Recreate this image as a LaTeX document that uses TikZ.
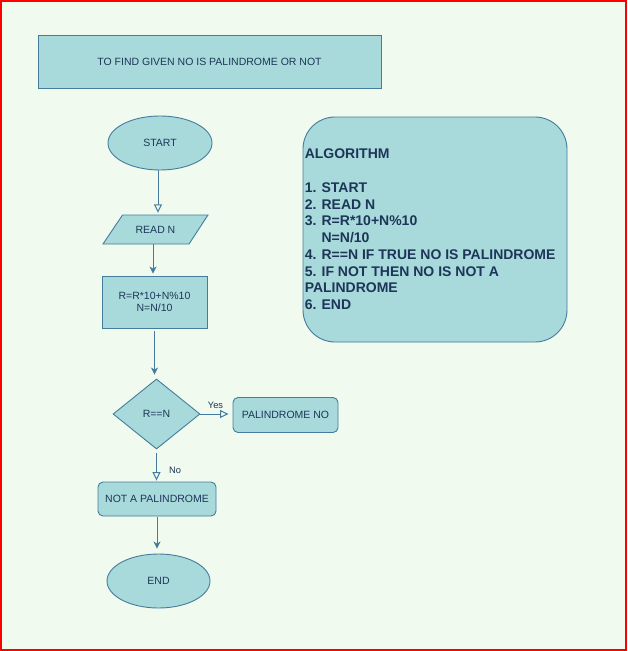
\documentclass[tikz,border=0pt]{standalone}
\usepackage{fontspec}
\setmainfont{Liberation Sans}
\usetikzlibrary{shapes.geometric,arrows.meta,calc}
\definecolor{bgc}{HTML}{F1FAEE}
\definecolor{fillc}{HTML}{A8DADC}
\definecolor{strokec}{HTML}{457B9D}
\definecolor{textc}{HTML}{1D3557}
\begin{document}
\begin{tikzpicture}[x=1pt,y=-1pt,
  fc/.style={fill=fillc,draw=strokec,line width=0.9pt,text=textc,inner sep=0pt,font=\fontsize{10.5}{12}\selectfont},
  openarrow/.style={draw=strokec,line width=1pt,-{Triangle[open,length=8.5pt,width=8pt,fill=bgc]}},
  fillarrow/.style={draw=strokec,line width=1pt,-{Stealth[length=7pt,width=7pt,inset=2pt]}},
  lbl/.style={text=textc,font=\fontsize{9.3}{10}\selectfont,inner sep=0pt}]
\useasboundingbox (0,0) rectangle (627,651);
\fill[bgc] (0,0) rectangle (627,651);
\draw[red, line width=2.4pt] (1.2,1.2) rectangle (625.8,649.8);

\node[fc, rectangle, minimum width=343pt, minimum height=53pt] (title) at (209.5,61.5) {TO FIND GIVEN NO IS PALINDROME OR NOT};
\node[fc, ellipse, minimum width=104pt, minimum height=54pt] (start) at (160,143) {START};
\filldraw[fill=fillc, draw=strokec, line width=0.9pt] (122.5,215) -- (208,215) -- (189,244) -- (103,244) -- cycle;
\node[text=textc, inner sep=0pt, font=\fontsize{10.5}{12}\selectfont, minimum width=105pt, minimum height=29pt] (read) at (155.5,229.5) {READ N};
\node[fc, rectangle, minimum width=105pt, minimum height=52pt, align=center] (proc) at (154.5,302) {R=R*10+N\%10\\N=N/10};
\node[fc, diamond, minimum width=87pt, minimum height=70pt] (dec) at (156.5,414) {R==N};
\node[fc, rectangle, rounded corners=5pt, minimum width=105pt, minimum height=35pt] (yes) at (285.5,415) {PALINDROME NO};
\node[fc, rectangle, rounded corners=5pt, minimum width=118pt, minimum height=34pt] (no) at (157,499) {NOT A PALINDROME};
\node[fc, ellipse, minimum width=103pt, minimum height=54pt] (end) at (158.5,581) {END};
\node[fc, rectangle, rounded corners=32pt, minimum width=264pt, minimum height=225pt] (algo) at (435,229.5) {};
\node[text=textc, anchor=west, align=left, inner sep=0pt, font=\fontsize{14}{16.75}\selectfont\bfseries] (algotext) at ([xshift=2pt]algo.west) {ALGORITHM\\[16.75pt]1. START\\2. READ N\\3. R=R*10+N\%10\\\hphantom{3. }N=N/10\\4. R==N IF TRUE NO IS PALINDROME\\5. IF NOT THEN NO IS NOT A\\PALINDROME\\6. END};

\node[lbl] (yeslbl) at (215.5,405.5) {Yes};
\node[lbl] (nolbl) at (175,470.5) {No};

\draw[openarrow, shorten >=2pt] ([xshift=-2pt]start.south) -- ([xshift=-2pt]start.south |- read.north);
\draw[fillarrow, shorten >=2pt] ([xshift=-2.5pt]read.south) -- ([xshift=-2.5pt]read.south |- proc.north);
\draw[fillarrow, shorten >=4pt] ([yshift=-3pt]proc.south) -- (proc.south |- dec.north);
\draw[openarrow, shorten >=4pt] (dec.east) -- (dec.east -| yes.west);
\draw[openarrow, shorten >=1pt] ([yshift=-4pt]dec.south) -- (dec.south |- no.north);
\draw[fillarrow] ([yshift=-1pt]no.south) -- ($(no.south |- end.north)+(0,-5)$);
\end{tikzpicture}
\end{document}
